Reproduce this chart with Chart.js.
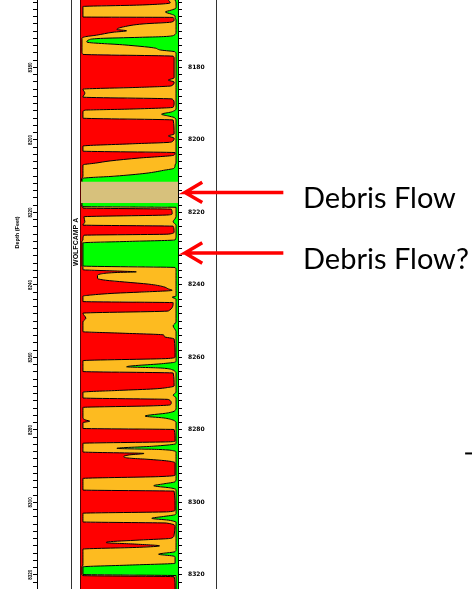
<!DOCTYPE html>
<html>
<head>
<meta charset="utf-8">
<script src="https://cdn.jsdelivr.net/npm/chart.js@4.4.1/dist/chart.umd.min.js"></script>
<style>
  html, body { margin: 0; padding: 0; background: #fff; }
  #wrap { width: 472px; height: 589px; position: relative; }
</style>
</head>
<body>
<div id="wrap"><canvas id="logChart"></canvas></div>
<script>
// Depth samples (ft) with the right-hand edge of each facies fill across the track (0 = left, 1 = right)
const depthFt = [
  8161.4, 8162.2, 8162.8, 8163.2, 8163.6, 8164.2, 8164.7, 8165.3, 8165.8, 8166.1,
  8166.2, 8166.9, 8167.5, 8168.0, 8168.8, 8169.5, 8169.9, 8170.3, 8171.1, 8171.5,
  8171.7, 8172.0, 8172.4, 8173.0, 8173.8, 8174.6, 8175.2, 8175.7, 8176.4, 8176.9,
  8177.4, 8182.9, 8183.5, 8184.0, 8185.1, 8185.5, 8186.0, 8187.1, 8188.2, 8188.7,
  8189.8, 8191.0, 8191.5, 8191.8, 8192.3, 8192.9, 8193.4, 8193.8, 8194.0, 8194.5,
  8198.4, 8198.9, 8199.5, 8200.6, 8201.1, 8201.7, 8203.1, 8203.5, 8204.2, 8205.0,
  8205.8, 8206.4, 8206.9, 8207.8, 8208.4, 8209.2, 8210.0, 8210.6, 8211.5, 8217.4,
  8218.4, 8218.6, 8218.8, 8219.1, 8220.4, 8220.7, 8221.2, 8222.6, 8223.5, 8223.8,
  8225.4, 8226.0, 8226.3, 8227.6, 8228.0, 8228.4, 8234.8, 8235.2, 8235.8, 8236.2,
  8236.4, 8236.6, 8237.0, 8237.5, 8238.2, 8238.7, 8239.2, 8239.8, 8240.5, 8241.1,
  8241.5, 8242.0, 8242.3, 8242.8, 8243.1, 8243.4, 8243.9, 8244.6, 8244.9, 8247.2,
  8247.8, 8249.2, 8250.2, 8251.3, 8252.9, 8253.3, 8253.8, 8254.3, 8254.9, 8259.9,
  8260.3, 8260.9, 8261.3, 8261.7, 8262.6, 8262.9, 8263.5, 8263.9, 8264.3, 8267.9,
  8268.2, 8268.7, 8269.1, 8269.6, 8270.4, 8271.2, 8271.6, 8272.6, 8273.1, 8273.4,
  8273.8, 8274.7, 8275.3, 8276.2, 8276.7, 8277.3, 8277.6, 8278.0, 8279.6, 8279.9,
  8283.1, 8283.3, 8283.7, 8283.9, 8284.5, 8285.1, 8285.4, 8285.8, 8286.1, 8286.5,
  8286.9, 8287.4, 8287.8, 8288.1, 8288.6, 8289.1, 8292.5, 8292.9, 8293.4, 8294.3,
  8294.9, 8295.4, 8296.0, 8296.3, 8296.6, 8296.9, 8302.1, 8302.6, 8303.0, 8303.4,
  8303.9, 8304.4, 8304.9, 8305.3, 8305.4, 8305.7, 8306.7, 8309.0, 8309.9, 8310.4,
  8310.9, 8311.1, 8311.5, 8312.0, 8312.4, 8312.9, 8313.6, 8314.3, 8314.8, 8315.1,
  8316.8, 8317.3, 8317.8, 8319.9, 8320.2, 8320.5, 8323.9
];
const redEdge = [
  0.90, 0.92, 0.60, 0.02, 0.02, 0.02, 0.02, 0.02, 0.02, 0.02,
  0.95, 0.96, 0.93, 0.64, 0.44, 0.37, 0.47, 0.33, 0.16, 0.05,
  0.02, 0.01, 0.01, 0.01, 0.01, 0.01, 0.01, 0.01, 0.02, 0.95,
  0.96, 0.96, 0.90, 0.96, 0.93, 0.60, 0.02, 0.04, 0.02, 0.94,
  0.96, 0.95, 0.50, 0.04, 0.02, 0.02, 0.02, 0.02, 0.02, 0.95,
  0.96, 0.90, 0.96, 0.93, 0.50, 0.02, 0.02, 0.97, 0.96, 0.60,
  0.30, 0.15, 0.02, 0.02, 0.02, 0.02, 0.02, 0.01, 0.00, 0.00,
  0.01, 0.02, 0.02, 0.93, 0.94, 0.90, 0.03, 0.04, 0.02, 0.95,
  0.96, 0.90, 0.03, 0.02, 0.01, 0.01, 0.01, 0.02, 0.02, 0.40,
  0.57, 0.35, 0.20, 0.17, 0.17, 0.25, 0.45, 0.70, 0.85, 0.90,
  0.94, 0.60, 0.35, 0.10, 0.02, 0.02, 0.02, 0.02, 0.95, 0.90,
  0.02, 0.05, 0.02, 0.02, 0.02, 0.40, 0.85, 0.86, 0.96, 0.97,
  0.90, 0.02, 0.02, 0.02, 0.02, 0.02, 0.02, 0.02, 0.95, 0.96,
  0.92, 0.75, 0.40, 0.02, 0.02, 0.02, 0.90, 0.93, 0.92, 0.70,
  0.02, 0.02, 0.02, 0.02, 0.02, 0.05, 0.09, 0.02, 0.02, 0.96,
  0.97, 0.90, 0.02, 0.02, 0.02, 0.02, 0.02, 0.02, 0.02, 0.65,
  0.50, 0.44, 0.50, 0.68, 0.90, 0.97, 0.97, 0.80, 0.02, 0.02,
  0.02, 0.02, 0.02, 0.02, 0.02, 0.96, 0.97, 0.90, 0.02, 0.02,
  0.02, 0.02, 0.02, 0.02, 0.02, 0.88, 0.97, 0.96, 0.93, 0.60,
  0.28, 0.26, 0.55, 0.81, 0.60, 0.02, 0.02, 0.02, 0.02, 0.02,
  0.02, 0.02, 0.01, 0.01, 0.02, 0.96, 0.97
];
const orangeEdge = [
  0.97, 0.98, 0.98, 0.98, 0.98, 0.93, 0.87, 0.93, 0.97, 0.97,
  0.97, 0.98, 0.98, 0.98, 0.98, 0.98, 0.98, 0.98, 0.96, 0.85,
  0.60, 0.20, 0.08, 0.06, 0.45, 0.75, 0.82, 0.97, 0.98, 0.98,
  0.98, 0.98, 0.98, 0.98, 0.98, 0.98, 0.98, 0.98, 0.98, 0.98,
  0.98, 0.98, 0.98, 0.97, 0.93, 0.83, 0.90, 0.96, 0.97, 0.98,
  0.98, 0.98, 0.98, 0.98, 0.98, 0.98, 0.98, 0.98, 0.98, 0.98,
  0.98, 0.98, 0.97, 0.96, 0.85, 0.67, 0.35, 0.02, 0.01, 0.01,
  0.02, 0.98, 0.98, 0.98, 0.98, 0.98, 0.98, 0.95, 0.98, 0.98,
  0.98, 0.98, 0.98, 0.97, 0.50, 0.02, 0.02, 0.97, 0.98, 0.98,
  0.98, 0.98, 0.98, 0.98, 0.98, 0.98, 0.98, 0.98, 0.98, 0.98,
  0.98, 0.98, 0.98, 0.98, 0.98, 0.94, 0.98, 0.98, 0.98, 0.98,
  0.98, 0.98, 0.98, 0.95, 0.98, 0.98, 0.98, 0.98, 0.98, 0.98,
  0.98, 0.98, 0.97, 0.85, 0.47, 0.80, 0.95, 0.97, 0.98, 0.98,
  0.98, 0.98, 0.98, 0.98, 0.95, 0.98, 0.98, 0.98, 0.98, 0.98,
  0.98, 0.97, 0.90, 0.66, 0.85, 0.95, 0.97, 0.98, 0.98, 0.98,
  0.98, 0.98, 0.98, 0.97, 0.75, 0.37, 0.80, 0.96, 0.98, 0.98,
  0.98, 0.98, 0.98, 0.98, 0.98, 0.98, 0.98, 0.98, 0.98, 0.97,
  0.85, 0.75, 0.92, 0.97, 0.98, 0.98, 0.98, 0.98, 0.98, 0.97,
  0.85, 0.73, 0.90, 0.97, 0.98, 0.98, 0.98, 0.98, 0.98, 0.98,
  0.98, 0.98, 0.98, 0.98, 0.98, 0.98, 0.97, 0.80, 0.95, 0.97,
  0.97, 0.50, 0.02, 0.02, 0.98, 0.98, 0.98
];

// Debris flow bed (top, base) and the notes pointing at it
const debrisBed = [8211.5, 8217.4];
const arrowDepths = [8214.5, 8231.2];
const noteDepths = [8216.2, 8233.1];
const noteLabels = ['Debris Flow', 'Debris Flow?'];
const dashDepth = 8286.5;

// Depth axis
const depthMin = 8161.4;
const depthMax = 8323.9;
const depthLabels = [8180, 8200, 8220, 8240, 8260, 8280, 8300, 8320];
const axisName = 'Depth (Feet)';
const axisNameDepth = 8225.5;
const zoneName = 'WOLFCAMP A';
const zoneDepth = 8228.1;

const RED = '#ff0000';
const ORANGE = '#fdbb20';
const GREEN = '#00ff00';
const TAN = '#d7c17c';

function edge(values) {
  return depthFt.map((d, i) => ({ x: values[i], y: d }));
}
function flat(x, depths) {
  return depths.map(d => ({ x: x, y: d }));
}
function arrow(d) {
  return [
    { x: 2.086, y: d }, { x: 1.072, y: d }, { x: 1.25, y: d - 2.8 },
    { x: 1.072, y: d }, { x: 1.25, y: d + 2.8 }
  ];
}

// every depth axis shares the same range, only width and decoration change
function depthAxis(position, weight, width, extra) {
  return Object.assign({
    type: 'linear',
    position: position,
    weight: weight,
    reverse: true,
    min: depthMin,
    max: depthMax,
    bounds: 'data',
    grid: { display: false, drawOnChartArea: false, drawTicks: false },
    border: { display: true, color: '#000', width: 1 },
    ticks: { display: false },
    afterFit: function(s) { s.width = width; s.paddingTop = 0; s.paddingBottom = 0; }
  }, extra);
}

// 2 ft tick marks, labelled every 20 ft; keep the full depth range after the ticks are rounded
const depthTickGrid = { display: true, drawOnChartArea: false, drawTicks: true, tickLength: 4, tickColor: '#000', tickWidth: 1 };
const depthTickLabel = v => depthLabels.includes(v) ? String(v) : '';
const keepRange = s => { s.min = depthMin; s.max = depthMax; };

const lineBase = { pointRadius: 0, pointHoverRadius: 0, tension: 0 };

new Chart(document.getElementById('logChart'), {
  type: 'line',
  data: {
    datasets: [
      Object.assign({ data: flat(0, depthFt), borderWidth: 0, fill: false }, lineBase),
      Object.assign({ data: edge(redEdge), borderColor: '#000', borderWidth: 1, backgroundColor: RED, fill: '-1', cubicInterpolationMode: 'monotone' }, lineBase),
      Object.assign({ data: edge(orangeEdge), borderColor: '#000', borderWidth: 1, backgroundColor: ORANGE, fill: '-1', cubicInterpolationMode: 'monotone' }, lineBase),
      Object.assign({ data: flat(1, depthFt), borderWidth: 0, backgroundColor: GREEN, fill: '-1' }, lineBase),
      // tan debris bed laid over the facies fills
      Object.assign({ data: flat(0, debrisBed), borderWidth: 0, fill: false, order: -1 }, lineBase),
      Object.assign({ data: flat(1, debrisBed), borderWidth: 0, backgroundColor: TAN, fill: '-1', order: -1 }, lineBase),
      Object.assign({ data: arrow(arrowDepths[0]), borderColor: RED, borderWidth: 3.5, fill: false, clip: false, borderJoinStyle: 'miter' }, lineBase),
      Object.assign({ data: arrow(arrowDepths[1]), borderColor: RED, borderWidth: 3.5, fill: false, clip: false, borderJoinStyle: 'miter' }, lineBase),
      Object.assign({ data: [{ x: 3.96, y: dashDepth }, { x: 4.04, y: dashDepth }], borderColor: '#000', borderWidth: 2, fill: false, clip: false }, lineBase)
    ]
  },
  options: {
    indexAxis: 'y',
    responsive: true,
    maintainAspectRatio: false,
    animation: false,
    events: [],
    layout: { padding: 0 },
    plugins: { legend: { display: false }, tooltip: { enabled: false } },
    scales: {
      x: { type: 'linear', min: 0, max: 1, display: false },
      y: depthAxis('right', 1, 38, {
        bounds: 'ticks',
        afterBuildTicks: keepRange,
        grid: depthTickGrid,
        ticks: {
          stepSize: 2, includeBounds: false, autoSkip: false, padding: 6, color: '#000',
          font: { family: 'DejaVu Sans', size: 6, weight: 'bold' },
          callback: depthTickLabel
        }
      }),
      notes: depthAxis('right', 2, 256, {
        border: { display: true, color: '#333', width: 1 },
        afterBuildTicks: s => { s.ticks = noteDepths.map(v => ({ value: v })); },
        ticks: {
          autoSkip: false, padding: 87, color: '#000',
          font: { family: 'Lato', size: 29 },
          callback: (v, i) => noteLabels[i]
        }
      }),
      zone: depthAxis('left', 1, 10, {
        border: { display: true, color: '#5a0000', width: 2 },
        afterBuildTicks: s => { s.ticks = [{ value: zoneDepth }]; },
        ticks: {
          autoSkip: false, padding: 5, minRotation: 90, maxRotation: 90, labelOffset: -24, color: '#000',
          font: { family: 'Liberation Sans', size: 7, weight: 'bold' },
          callback: () => zoneName
        }
      }),
      gap: depthAxis('left', 2, 34, {
        border: { display: true, color: '#333', width: 1 }
      }),
      depthLeft: depthAxis('left', 3, 17, {
        bounds: 'ticks',
        afterBuildTicks: keepRange,
        grid: depthTickGrid,
        ticks: {
          stepSize: 2, includeBounds: false, autoSkip: false, padding: 2, minRotation: 90, maxRotation: 90,
          labelOffset: -5, color: '#000',
          font: { family: 'Liberation Sans', size: 4.5, weight: 'bold' },
          callback: depthTickLabel
        }
      }),
      depthName: depthAxis('left', 4, 20, {
        border: { display: false },
        afterBuildTicks: s => { s.ticks = [{ value: axisNameDepth }]; },
        ticks: {
          autoSkip: false, padding: 2.5, minRotation: 90, maxRotation: 90, labelOffset: -16, color: '#000',
          font: { family: 'Liberation Sans', size: 5.5, weight: 'bold' },
          callback: () => axisName
        }
      })
    }
  }
});
</script>
</body>
</html>
